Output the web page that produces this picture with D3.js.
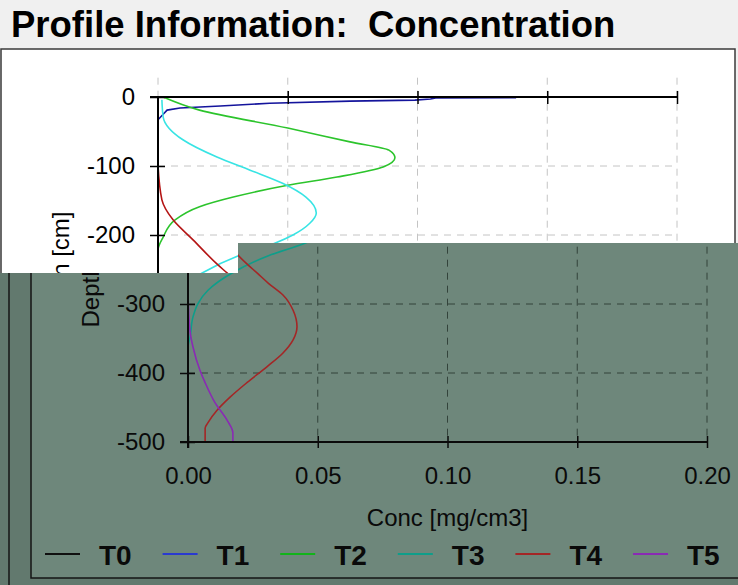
<!DOCTYPE html>
<html><head><meta charset="utf-8">
<script src="https://cdn.jsdelivr.net/npm/d3@7"></script>
<style>html,body{margin:0;padding:0;background:#f0f0f0;overflow:hidden}svg{display:block}</style>
</head><body>
<svg id="c" width="738" height="585"></svg>
<script>
// ---- data ----
const titleText = "Profile Information:  Concentration";
const xLabel = "Conc [mg/cm3]";
const yLabel = "Depth [cm]";
const seriesNames = ["T0", "T1", "T2", "T3", "T4", "T5"];
const depthTicks = [0, -100, -200, -300, -400, -500];
const concTicks = [0, 0.05, 0.10, 0.15, 0.20];

const T0_depth = [0, -500];
const T0_conc  = [0, 0];
const T1_depth = [-1, -1.5, -3, -4.5, -6, -9, -13, -16, -19, -25, -33, -500];
const T1_conc  = [0.138, 0.107, 0.105, 0.099, 0.074, 0.043, 0.024, 0.0085, 0.0035, 0.002, 0, 0];
const T2_depth = [0, -19, -45, -65, -77, -88, -101, -116, -128, -145, -159, -178, -203, -222, -500];
const T2_conc  = [0.002, 0.016, 0.05, 0.074, 0.089, 0.0913, 0.087, 0.069, 0.050, 0.029, 0.016, 0.0066, 0.002, 0, 0];
const T3_depth = [-4, -29, -62, -87, -106, -125, -145, -168, -183, -200, -212, -230, -255, -280, -299, -319, -348, -362, -500];
const T3_conc  = [0.0015, 0.002, 0.0096, 0.0227, 0.0355, 0.048, 0.057, 0.061, 0.0585, 0.052, 0.045, 0.031, 0.017, 0.0077, 0.0039, 0.0019, 0.0008, 0, 0];
const T4_depth = [-99, -149, -178, -207, -243, -255, -270, -287, -309, -333, -352, -371, -391, -414, -435, -454, -472, -480, -500];
const T4_conc  = [0, 0.0015, 0.0058, 0.0135, 0.023, 0.0266, 0.031, 0.0366, 0.0405, 0.042, 0.0405, 0.0366, 0.0304, 0.0227, 0.0162, 0.0112, 0.0077, 0.0066, 0.0066];
const T5_depth = [-284, -340, -362, -396, -414, -443, -468, -487, -500];
const T5_conc  = [0, 0.0008, 0.0019, 0.0046, 0.0066, 0.0104, 0.015, 0.0173, 0.0173];

const seriesDepth = [T0_depth, T1_depth, T2_depth, T3_depth, T4_depth, T5_depth];
const seriesConc  = [T0_conc, T1_conc, T2_conc, T3_conc, T4_conc, T5_conc];

// ---- themes (two overlapping renderings of the same chart) ----
const themeTop = {
  panel: "#ffffff", outer: "#f0f0f0", border: "#3a3a3a", grid: "#c4c4c4",
  ink: "#000000", colors: ["#000000", "#14149c", "#2cc42c", "#38e4e4", "#b41414", "#8c14a8"]
};
const themeBottom = {
  panel: "#6e877b", outer: "#62796e", border: "#151515", grid: "#33433b",
  ink: "#0a0a0a", colors: ["#101010", "#2a3ad0", "#12b41a", "#0e9e8a", "#a42626", "#8a2ab4"]
};

const FONT = "'Liberation Sans', Arial, sans-serif";
const svg = d3.select("#c");
const W = 738, H = 585;

const defs = svg.append("defs");
defs.append("clipPath").attr("id", "clipBottom")
  .append("path").attr("d", "M238,243H738V585H0V273H238Z");

function drawChart(g, dx, th, opt) {
  const panelL = 1 + dx, panelT = 49, panelR = 735 + dx, panelB = 578;
  g.append("rect").attr("x", 0).attr("y", 0).attr("width", W).attr("height", H).attr("fill", th.outer);
  g.append("line").attr("x1", panelL - 22).attr("x2", panelL - 22).attr("y1", 0).attr("y2", H)
    .attr("stroke", th.border).attr("stroke-width", 1.5);
  g.append("rect").attr("x", panelL).attr("y", panelT).attr("width", panelR - panelL).attr("height", panelB - panelT)
    .attr("fill", th.panel).attr("stroke", th.border).attr("stroke-width", 1.5);

  if (opt.title) {
    g.append("text").attr("x", 11).attr("y", 37).attr("font-family", FONT).attr("font-weight", "bold")
      .attr("font-size", 36.5).attr("fill", th.ink).style("white-space", "pre").text(titleText);
  }

  const x = d3.scaleLinear().domain([0, 0.2]).range([158 + dx, 677 + dx]);
  const y = d3.scaleLinear().domain([0, -500]).range([97, 442]);

  // grid
  const grid = g.append("g").attr("stroke", th.grid).attr("stroke-width", 1).attr("stroke-dasharray", "7,6");
  concTicks.forEach(c => {
    grid.append("line").attr("x1", x(c)).attr("x2", x(c)).attr("y1", y(28)).attr("y2", y(-500));
  });
  depthTicks.filter(d => d < 0 && d > -500).forEach(d => {
    grid.append("line").attr("x1", x(0)).attr("x2", x(0.2)).attr("y1", y(d)).attr("y2", y(d));
  });

  // series
  seriesNames.forEach((name, i) => {
    const pts = seriesDepth[i].map((dv, k) => [seriesConc[i][k], dv]);
    const line = d3.line().x(p => x(p[0])).y(p => y(p[1]))
      .curve(i === 1 ? d3.curveLinear : d3.curveMonotoneY);
    g.append("path").datum(pts).attr("d", line).attr("fill", "none")
      .attr("stroke", th.colors[i]).attr("stroke-width", 1.6);
  });

  // bottom axis
  const ax = d3.axisBottom(x).tickValues(concTicks).tickFormat(d3.format(".2f"))
    .tickSizeInner(6).tickSizeOuter(0).tickPadding(19);
  const gx = g.append("g").attr("transform", `translate(0,${y(-500)})`).call(ax);
  gx.select(".domain").remove();
  gx.selectAll(".tick line").attr("y1", -6).attr("stroke", th.ink).attr("stroke-width", 1.5);
  if (opt.xLabels) {
    gx.selectAll(".tick text").attr("font-family", FONT).attr("font-size", 24).attr("fill", th.ink);
  } else {
    gx.selectAll(".tick text").remove();
  }
  g.append("line").attr("x1", x(0) - 8).attr("x2", x(0.2)).attr("y1", y(-500)).attr("y2", y(-500))
    .attr("stroke", th.ink).attr("stroke-width", 2);

  // top axis (depth 0)
  const axT = d3.axisTop(x).tickValues(concTicks.slice(1)).tickFormat("").tickSizeInner(6).tickSizeOuter(0);
  const gt = g.append("g").attr("transform", `translate(0,${y(0)})`).call(axT);
  gt.select(".domain").remove();
  gt.selectAll(".tick text").remove();
  gt.selectAll(".tick line").attr("y1", 7).attr("stroke", th.ink).attr("stroke-width", 1.5);
  g.append("line").attr("x1", x(0) - 8).attr("x2", x(0.2)).attr("y1", y(0)).attr("y2", y(0))
    .attr("stroke", th.ink).attr("stroke-width", 2);

  // left axis
  const ay = d3.axisLeft(y).tickValues(depthTicks).tickFormat(d => String(d))
    .tickSizeInner(8).tickSizeOuter(0).tickPadding(15);
  const gy = g.append("g").attr("transform", `translate(${x(0)},0)`).call(ay);
  gy.select(".domain").remove();
  gy.selectAll(".tick line").attr("x1", 7).attr("stroke", th.ink).attr("stroke-width", 1.5);
  gy.selectAll(".tick text").attr("font-family", FONT).attr("font-size", 24).attr("fill", th.ink);
  gy.selectAll(".tick text").filter(d => !opt.yLabelKeep(d)).remove();
  g.append("line").attr("x1", x(0)).attr("x2", x(0)).attr("y1", y(0)).attr("y2", y(-500) + 6)
    .attr("stroke", th.ink).attr("stroke-width", 2);

  // axis titles
  if (opt.xTitle) {
    g.append("text").attr("x", (x(0) + x(0.2)) / 2).attr("y", 526).attr("text-anchor", "middle")
      .attr("font-family", FONT).attr("font-size", 24).attr("fill", th.ink).text(xLabel);
  }
  g.append("text").attr("transform", `translate(${x(0) - 89},${(y(0) + y(-500)) / 2}) rotate(-90)`)
    .attr("text-anchor", "middle").attr("font-family", FONT).attr("font-size", 24).attr("fill", th.ink).text(yLabel);

  // legend
  if (opt.legend) {
    const lg = g.append("g");
    seriesNames.forEach((name, i) => {
      const lx = panelL + 14 + i * 117.6;
      lg.append("line").attr("x1", lx).attr("x2", lx + 35).attr("y1", 554).attr("y2", 554)
        .attr("stroke", th.colors[i]).attr("stroke-width", 2);
      lg.append("text").attr("x", lx + 54).attr("y", 555).attr("dominant-baseline", "central")
        .attr("font-family", FONT).attr("font-weight", "bold").attr("font-size", 28).attr("fill", th.ink).text(name);
    });
  }
}

drawChart(svg.append("g"), 0, themeTop,
  { title: true, xLabels: false, xTitle: false, legend: false, yLabelKeep: d => d >= -200 });
drawChart(svg.append("g").attr("clip-path", "url(#clipBottom)"), 30, themeBottom,
  { title: false, xLabels: true, xTitle: true, legend: true, yLabelKeep: d => d <= -300 });
</script>
</body></html>
